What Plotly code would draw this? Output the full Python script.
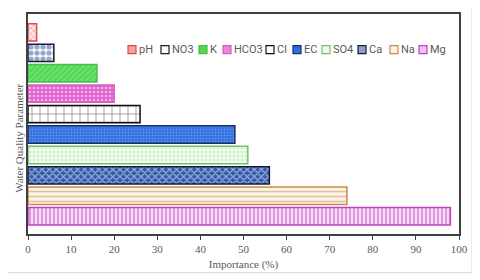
import plotly.graph_objects as go

# ---- data ----
parameters = ["pH", "NO3", "K", "HCO3", "Cl", "EC", "SO4", "Ca", "Na", "Mg"]
importance = [2, 6, 16, 20, 26, 48, 51, 56, 74, 98]
x_ticks = [0, 10, 20, 30, 40, 50, 60, 70, 80, 90, 100]

# ---- styles ----
styles = {
    "pH":   dict(shape="x", fg="#e23b3f", bg="#ffe9e9", line="#e04a4e", size=4, sol=0.3),
    "NO3":  dict(shape=".", fg="#2b4f9c", bg="#ffffff", line="#1c1c2c", size=6, sol=0.6),
    "K":    dict(shape="/", fg="#a8f0a8", bg="#52d852", line="#45c045", size=4, sol=0.3),
    "HCO3": dict(shape=".", fg="#ffffff", bg="#e062cc", line="#d95cc4", size=4, sol=0.35),
    "Cl":   dict(shape="+", fg="#111111", bg="#ffffff", line="#111111", size=8, sol=0.18),
    "EC":   dict(shape=".", fg="#94b8f2", bg="#2f6fe0", line="#1a2f66", size=3, sol=0.35),
    "SO4":  dict(shape=".", fg="#a6dca6", bg="#f2faee", line="#6cc46c", size=4, sol=0.35),
    "Ca":   dict(shape="x", fg="#ffffff", bg="#3358ac", line="#141c3a", size=5, sol=0.45),
    "Na":   dict(shape="-", fg="#c98a4b", bg="#fdf4e8", line="#c98a4b", size=5, sol=0.3),
    "Mg":   dict(shape="|", fg="#c33fc3", bg="#f8dcf8", line="#c33fc3", size=4, sol=0.45),
}
legend_fill = {
    "pH": "#f4a3a5", "NO3": "#ffffff", "K": "#52d852", "HCO3": "#e88ad8", "Cl": "#ffffff",
    "EC": "#2f6fe0", "SO4": "#f2faee", "Ca": "#8aa0d0", "Na": "#fdf4e8", "Mg": "#f0c0f0",
}

# page offset of the figure (default body margin)
OFF = 8
FW, FH = 480 - OFF, 280 - OFF
# plot-area pixel geometry in page coordinates
L, R, T, B = 28, 459, 12, 234
W, H = R - L, B - T

def px(x):
    return (x - L) / W

def py(y):
    return (B - y) / H

fig = go.Figure()
order_bottom_up = parameters[::-1]
for name, val in zip(parameters, importance):
    s = styles[name]
    fig.add_trace(go.Bar(
        x=[val], y=[name], orientation="h", name=name, width=0.85,
        marker=dict(
            color=s["bg"],
            line=dict(color=s["line"], width=1.5),
            pattern=dict(shape=s["shape"], fgcolor=s["fg"], bgcolor=s["bg"],
                         size=s["size"], solidity=s["sol"], fillmode="overlay"),
        ),
        showlegend=False,
    ))

shapes = []
annotations = []
# outer chart border
shapes.append(dict(type="rect", xref="paper", yref="paper",
                   x0=px(5), x1=px(472), y0=py(273), y1=py(3),
                   line=dict(color="#d9d9d9", width=1), fillcolor="rgba(0,0,0,0)", layer="below"))

# manual legend (single row)
legend_x = [128, 161, 199, 223, 266, 293, 322, 358, 390, 419]
ly = 48
for name, lx in zip(parameters, legend_x):
    s = styles[name]
    shapes.append(dict(type="rect", xref="paper", yref="paper",
                       x0=px(lx), x1=px(lx + 8), y0=py(ly + 4), y1=py(ly - 4),
                       line=dict(color=s["line"], width=1.2), fillcolor=legend_fill[name]))
    annotations.append(dict(x=px(lx + 9), y=py(ly), xref="paper", yref="paper",
                            text=name, showarrow=False, xanchor="left", yanchor="middle",
                            font=dict(family="Liberation Sans Narrow, Roboto, Arial", size=11,
                                      color="#595959")))

# y-axis title
annotations.append(dict(x=px(19), y=py(138), xref="paper", yref="paper",
                        text="Water Quality Parameter", showarrow=False, textangle=-90,
                        xanchor="center", yanchor="middle",
                        font=dict(family="Liberation Serif, Times New Roman, serif", size=11,
                                  color="#595959")))

fig.update_layout(
    width=FW, height=FH,
    margin=dict(l=L - OFF, r=480 - R, t=T - OFF, b=280 - B),
    paper_bgcolor="white", plot_bgcolor="white",
    barmode="overlay",
    showlegend=False,
    shapes=shapes,
    annotations=annotations,
    xaxis=dict(
        range=[0, 100], tickvals=x_ticks, ticktext=[str(t) for t in x_ticks],
        showgrid=False, zeroline=False,
        showline=True, linecolor="#404040", linewidth=1.5, mirror=True,
        ticks="outside", ticklen=4, tickcolor="#404040", tickwidth=1,
        tickfont=dict(family="Liberation Serif, Times New Roman, serif", size=11, color="#595959"),
        title=dict(text="Importance (%)", standoff=6,
                   font=dict(family="Liberation Serif, Times New Roman, serif", size=11,
                             color="#595959")),
    ),
    yaxis=dict(
        type="category", categoryorder="array", categoryarray=order_bottom_up,
        range=[-0.87, 9.9], showticklabels=False, ticks="",
        showgrid=False, zeroline=False,
        showline=True, linecolor="#404040", linewidth=1.5, mirror=True,
    ),
)

fig.write_html("out.html")
